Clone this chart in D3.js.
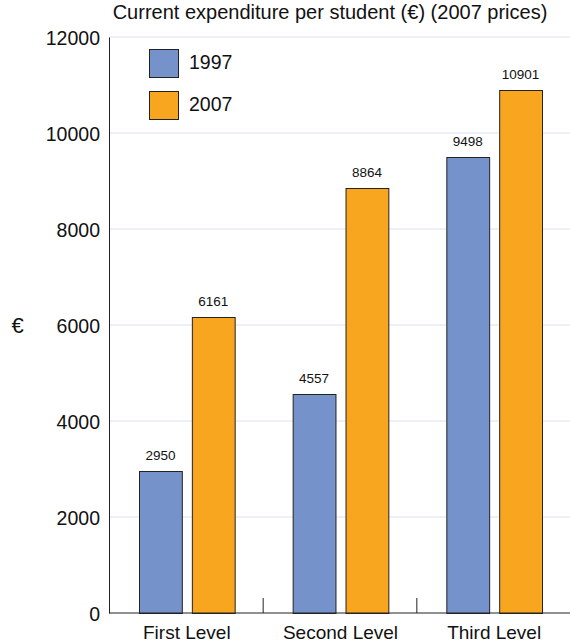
<!DOCTYPE html>
<html>
<head>
<meta charset="utf-8">
<script src="https://cdn.jsdelivr.net/npm/d3@7"></script>
<style>
  body { margin: 0; background: #fff; }
  svg text { font-family: "Liberation Sans", Arial, Helvetica, sans-serif; fill: #111; }
</style>
</head>
<body>
<div id="chart-area"></div>
<script>
const levels = ["First Level", "Second Level", "Third Level"];
const years = ["1997", "2007"];
const values1997 = [2950, 4557, 9498];
const values2007 = [6161, 8864, 10901];
const yTicks = [0, 2000, 4000, 6000, 8000, 10000, 12000];
const colors = ["#7592cb", "#f8a61f"];

const width = 570, height = 644;
const margin = { left: 109, right: 0, top: 37, bottom: 31 };

const svg = d3.select("#chart-area")
  .append("svg")
  .attr("width", width)
  .attr("height", height);

const x = d3.scaleBand()
  .domain(levels)
  .range([margin.left, width - margin.right]);

const xInner = d3.scaleBand()
  .domain(years)
  .range([30, x.bandwidth() - 28])
  .paddingInner(0.19);

const y = d3.scaleLinear()
  .domain([0, 12000])
  .range([height - margin.bottom, margin.top]);

// grid
svg.append("g")
  .selectAll("line")
  .data(yTicks.filter(d => d > 0))
  .join("line")
  .attr("x1", margin.left)
  .attr("x2", width)
  .attr("y1", d => y(d))
  .attr("y2", d => y(d))
  .attr("stroke", "#dde1f3")
  .attr("stroke-width", 1);

// title
svg.append("text")
  .attr("x", 330)
  .attr("y", 19)
  .attr("text-anchor", "middle")
  .attr("font-size", "20px")
  .text("Current expenditure per student (€) (2007 prices)");

// y axis
const yAxis = svg.append("g")
  .attr("transform", `translate(${margin.left},0)`)
  .call(d3.axisLeft(y).tickValues(yTicks).tickSize(0).tickPadding(9).tickFormat(d3.format("d")));
yAxis.select(".domain").attr("stroke", "#222");
yAxis.selectAll("text").attr("font-size", "19.5px").attr("fill", "#111").attr("dy", "0.36em");

svg.append("text")
  .attr("x", 17.5)
  .attr("y", 333)
  .attr("text-anchor", "middle")
  .attr("font-size", "22px")
  .text("€");

// bars
const rows = levels.map((l, i) => ({ level: l, vals: [values1997[i], values2007[i]] }));

const groups = svg.append("g")
  .selectAll("g")
  .data(rows)
  .join("g")
  .attr("transform", d => `translate(${x(d.level)},0)`);

groups.selectAll("rect")
  .data(d => d.vals.map((v, j) => ({ year: years[j], v: v, j: j })))
  .join("rect")
  .attr("x", d => xInner(d.year) + 0.5)
  .attr("y", d => Math.round(y(d.v)) + 0.5)
  .attr("width", xInner.bandwidth())
  .attr("height", d => y(0) - Math.round(y(d.v)))
  .attr("fill", d => colors[d.j])
  .attr("stroke", "#222")
  .attr("stroke-width", 1);

groups.selectAll("text.val")
  .data(d => d.vals.map((v, j) => ({ year: years[j], v: v })))
  .join("text")
  .attr("class", "val")
  .attr("x", d => xInner(d.year) + xInner.bandwidth() / 2)
  .attr("y", d => y(d.v) - 11)
  .attr("text-anchor", "middle")
  .attr("font-size", "13.5px")
  .text(d => d.v);

// x axis
const xAxis = svg.append("g")
  .attr("transform", `translate(0,${y(0)})`);
xAxis.append("line")
  .attr("x1", margin.left)
  .attr("x2", width)
  .attr("stroke", "#222");
xAxis.selectAll("line.sep")
  .data(levels.slice(1))
  .join("line")
  .attr("class", "sep")
  .attr("x1", d => x(d) + 0.5)
  .attr("x2", d => x(d) + 0.5)
  .attr("y1", 0)
  .attr("y2", -15)
  .attr("stroke", "#222");
const groupMid = (xInner.range()[0] + xInner.range()[1]) / 2;
xAxis.selectAll("text")
  .data(levels)
  .join("text")
  .attr("x", d => x(d) + groupMid)
  .attr("y", 26)
  .attr("text-anchor", "middle")
  .attr("font-size", "19px")
  .text(d => d);

// legend
const legend = svg.append("g").attr("transform", "translate(149,49)");
years.forEach((yr, i) => {
  legend.append("rect")
    .attr("x", 0.5)
    .attr("y", i * 42 + 0.5)
    .attr("width", 29)
    .attr("height", 28)
    .attr("fill", colors[i])
    .attr("stroke", "#222");
  legend.append("text")
    .attr("x", 40)
    .attr("y", i * 42 + 20)
    .attr("font-size", "19.5px")
    .text(yr);
});
</script>
</body>
</html>
